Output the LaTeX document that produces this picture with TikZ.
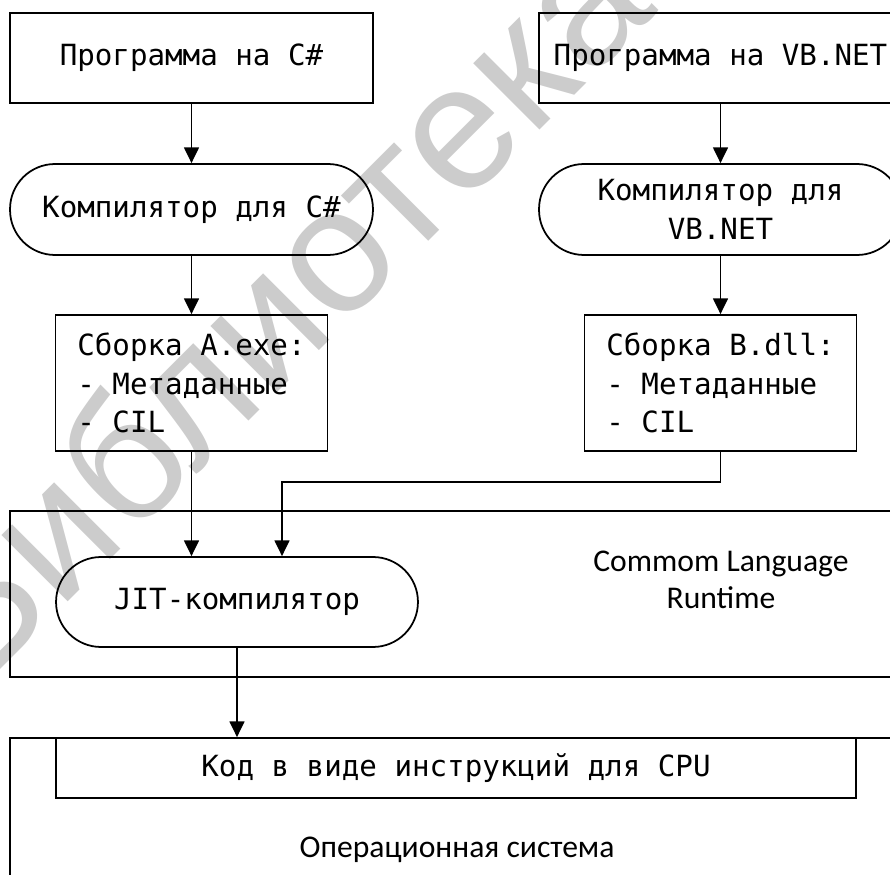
\documentclass[tikz,border=0pt]{standalone}
\usepackage{fontspec}
\usetikzlibrary{arrows.meta,calc}
\newfontfamily\codefont{DejaVu Sans Mono}
\newfontfamily\labelfont{Carlito}
\newfontfamily\markfont{Liberation Sans}

\tikzset{
	block/.style={draw, line width=1pt, font=\codefont\fontsize{16.6}{22}\selectfont},
	progbox/.style={block, minimum width=7.26cm, minimum height=1.8cm},
	compbox/.style={block, rounded corners=0.9cm, minimum width=7.26cm, minimum height=1.82cm, align=center},
	asmbox/.style={block, minimum width=5.44cm, minimum height=2.72cm, align=left},
	layer/.style={draw, line width=1pt, minimum width=18cm},
	caption/.style={font=\labelfont\fontsize{18}{21}\selectfont, align=center},
	arr/.style={line width=1pt, -{Triangle[length=9pt,width=8.5pt]}},
}

\begin{document}
\begin{tikzpicture}[x=0.02cm, y=-0.02cm]
	\useasboundingbox (0,0) rectangle (890,875);
	\clip (0,0) rectangle (890,875);

	% watermark
	\node[font=\markfont\fontsize{101}{101}\selectfont, text=black!20, rotate=45, anchor=base] (wm) at (318,352) {Библиотека};

	% layers
	\node[layer, minimum height=3.32cm] (clr) at (460,594) {};
	\node[layer, minimum height=3.64cm] (os) at (460,829) {};

	\node[progbox] (progcs) at (191.5,58) {Программа на C\#};
	\node[progbox] (progvb) at (720.5,58) {Программа на VB.NET};

	\node[compbox] (compcs) at (191.5,209.5) {Компилятор для C\#};
	\node[compbox] (compvb) at (720.5,209.5) {Компилятор для\\VB.NET};

	\node[asmbox] (asma) at (191.5,383) {Сборка A.exe:\\- Метаданные\\- CIL};
	\node[asmbox] (asmb) at (720.5,383) {Сборка B.dll:\\- Метаданные\\- CIL};

	\node[compbox, minimum width=7.24cm, minimum height=1.8cm] (jit) at (237,602) {JIT-компилятор};
	\node[caption] (clrname) at (721,580) {Commom Language\\Runtime};

	\node[block, minimum width=16cm, minimum height=1.2cm] (cpu) at (456,768) {Код в виде инструкций для CPU};
	\node[caption] (osname) at (457,850) {Операционная система};

	\draw[arr] (progcs) -- (compcs);
	\draw[arr] (progvb) -- (compvb);
	\draw[arr] (compcs) -- (asma);
	\draw[arr] (compvb) -- (asmb);

	\draw[arr] (asma) -- (asma |- jit.north);
	\draw[arr] (asmb.south) -- ++(0,30) -| ($(jit.north)+(45,0)$);

	\draw[arr] (jit) -- (jit |- os.north);
\end{tikzpicture}
\end{document}
